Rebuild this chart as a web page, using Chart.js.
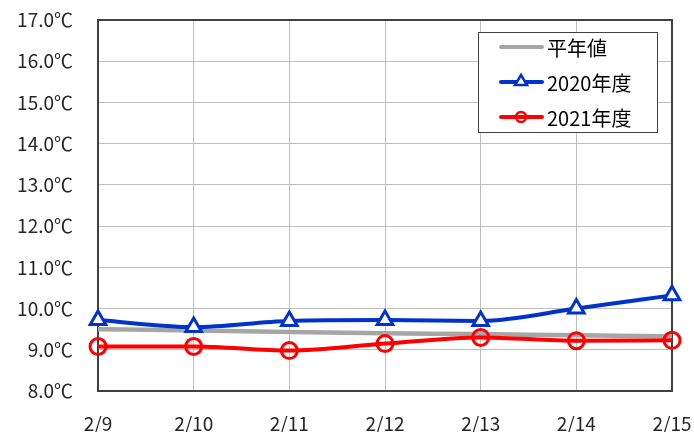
<!DOCTYPE html>
<html>
<head>
<meta charset="utf-8">
<script src="https://cdn.jsdelivr.net/npm/chart.js@4/dist/chart.umd.min.js"></script>
<style>
  html, body { margin: 0; padding: 0; background: #fff; }
  #wrap { width: 694px; height: 432px; }
</style>
</head>
<body>
<div id="wrap"><canvas id="c" width="694" height="432"></canvas></div>
<script>
// Daily mean temperature, 2/9 - 2/15
const days = ['2/9', '2/10', '2/11', '2/12', '2/13', '2/14', '2/15'];
const normalTemp = [9.50, 9.47, 9.43, 9.40, 9.38, 9.35, 9.33];
const temp2020 = [9.72, 9.55, 9.70, 9.72, 9.70, 10.00, 10.32];
const temp2021 = [9.08, 9.08, 8.98, 9.15, 9.30, 9.22, 9.23];
const seriesNames = ['平年値', '2020年度', '2021年度'];

const FONT = "'Noto Sans CJK JP', 'Noto Sans', sans-serif";

// Full frame around the plot area
const plotFrame = {
  id: 'plotFrame',
  beforeDatasetsDraw(chart) {
    const { ctx, chartArea: a } = chart;
    ctx.save();
    ctx.strokeStyle = '#404040';
    ctx.lineWidth = 2;
    ctx.strokeRect(a.left, a.top, a.right - a.left, a.bottom - a.top);
    ctx.restore();
  }
};

// Boxed legend drawn in the upper right of the plot area
const boxLegend = {
  id: 'boxLegend',
  afterDraw(chart) {
    const ctx = chart.ctx;
    const a = chart.chartArea;
    const x0 = a.right - 194, y0 = a.top + 12, w = 179, h = 100;
    ctx.save();
    ctx.fillStyle = '#fff';
    ctx.fillRect(x0, y0, w, h);
    ctx.strokeStyle = '#404040';
    ctx.lineWidth = 1;
    ctx.strokeRect(x0 + 0.5, y0 + 0.5, w, h);
    const rows = [y0 + 15, y0 + 50, y0 + 85];
    chart.data.datasets.forEach((ds, i) => {
      const y = rows[i];
      const cx = x0 + 43;
      ctx.strokeStyle = ds.borderColor;
      ctx.lineWidth = 4;
      ctx.lineCap = 'round';
      ctx.beginPath();
      ctx.moveTo(x0 + 23, y);
      ctx.lineTo(x0 + 64, y);
      ctx.stroke();
      ctx.lineWidth = 2.5;
      if (ds.pointStyle === 'triangle') {
        ctx.fillStyle = '#fff';
        ctx.beginPath();
        ctx.moveTo(cx, y - 7);
        ctx.lineTo(cx + 6, y + 3);
        ctx.lineTo(cx - 6, y + 3);
        ctx.closePath();
        ctx.fill();
        ctx.stroke();
      } else if (ds.pointStyle === 'circle') {
        ctx.beginPath();
        ctx.arc(cx, y, 5, 0, Math.PI * 2);
        ctx.stroke();
      }
      ctx.fillStyle = '#000';
      ctx.font = "20px " + FONT;
      ctx.textBaseline = 'middle';
      ctx.textAlign = 'left';
      ctx.fillText(ds.label, x0 + 69, y + 1);
    });
    ctx.restore();
  }
};

new Chart(document.getElementById('c'), {
  type: 'line',
  data: {
    labels: days,
    datasets: [
      {
        label: seriesNames[0], data: normalTemp,
        borderColor: '#a6a6a6', backgroundColor: '#a6a6a6',
        borderWidth: 4.5, pointRadius: 0, pointStyle: false,
        cubicInterpolationMode: 'monotone', order: 3
      },
      {
        label: seriesNames[1], data: temp2020,
        borderColor: '#0033cc', backgroundColor: '#ffffff',
        borderWidth: 4, pointStyle: 'triangle', pointRadius: 9,
        pointBorderWidth: 3, cubicInterpolationMode: 'monotone', order: 2
      },
      {
        label: seriesNames[2], data: temp2021,
        borderColor: '#ff0000', backgroundColor: 'rgba(0,0,0,0)',
        borderWidth: 4, pointStyle: 'circle', pointRadius: 8,
        pointBorderWidth: 3, cubicInterpolationMode: 'monotone', order: 1
      }
    ]
  },
  options: {
    responsive: false,
    animation: false,
    layout: { padding: { top: 20, right: 22, left: 0, bottom: 0 } },
    plugins: { legend: { display: false }, tooltip: { enabled: false } },
    scales: {
      x: {
        offset: false,
        grid: { color: '#bfbfbf', lineWidth: 1, drawTicks: false },
        border: { color: '#404040', width: 2 },
        ticks: { color: '#262626', font: { family: FONT, size: 19 }, padding: 21, maxRotation: 0 },
        afterFit(s) { s.height = 41; s.paddingLeft = 0; s.paddingRight = 0; }
      },
      y: {
        min: 8, max: 17,
        grid: { color: '#bfbfbf', lineWidth: 1, drawTicks: false },
        border: { color: '#404040', width: 2 },
        ticks: {
          stepSize: 1, color: '#262626', padding: 25,
          font: { family: FONT, size: 19 },
          callback: v => v.toFixed(1) + '℃'
        },
        afterFit(s) { s.width = 98; s.paddingTop = 0; s.paddingBottom = 0; }
      }
    }
  },
  plugins: [plotFrame, boxLegend]
});
</script>
</body>
</html>
